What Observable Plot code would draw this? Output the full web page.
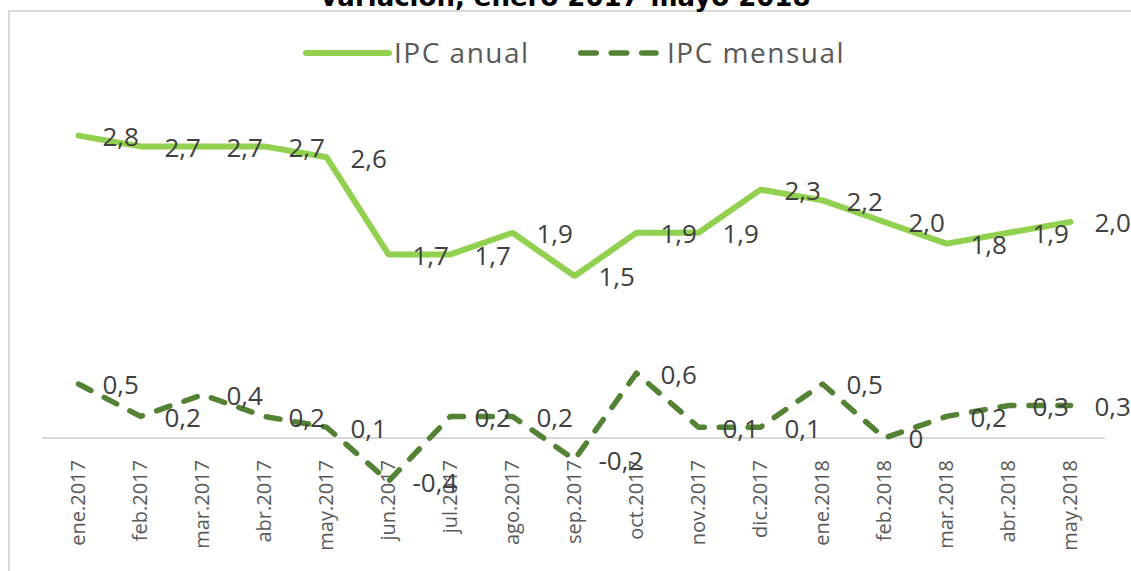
<!DOCTYPE html>
<html>
<head>
<meta charset="utf-8">
<script src="https://cdn.jsdelivr.net/npm/d3@7"></script>
<script src="https://cdn.jsdelivr.net/npm/@observablehq/plot@0.6"></script>
<style>
  html, body { margin: 0; padding: 0; background: #fff; }
  #wrap { position: relative; width: 1131px; height: 571px; overflow: hidden; font-family: "Open Sans", sans-serif; }
  #frame { position: absolute; left: 8px; top: 10px; width: 1300px; height: 800px; border: 2px solid #d9d9d9; box-sizing: border-box; }
  #title { position: absolute; left: 0; top: -16px; width: 1131px; text-align: center; font: bold 26px/27px "DejaVu Sans", sans-serif; color: #000; white-space: nowrap; }
  .lg-text { position: absolute; top: 38px; font-size: 28px; line-height: 28px; letter-spacing: 1.5px; color: #595959; white-space: nowrap; }
  .lg-swatch { position: absolute; top: 48px; }
  #chart { position: absolute; left: 0; top: 0; }
</style>
</head>
<body>
<div id="wrap">
  <div id="frame"></div>
  <div id="title">variación, enero 2017-mayo 2018</div>
  <svg class="lg-swatch" style="left:303px" width="90" height="12"><line x1="3" y1="5" x2="86" y2="5" stroke="#92d050" stroke-width="6" stroke-linecap="round"/></svg>
  <div class="lg-text" style="left:394px">IPC anual</div>
  <svg class="lg-swatch" style="left:575px" width="90" height="12"><line x1="5.75" y1="5" x2="81" y2="5" stroke="#548235" stroke-width="5.5" stroke-linecap="round" stroke-dasharray="15.5,15"/></svg>
  <div class="lg-text" style="left:667px">IPC mensual</div>
  <div id="chart"></div>
</div>
<script>
const months = ["ene.2017","feb.2017","mar.2017","abr.2017","may.2017","jun.2017","jul.2017","ago.2017","sep.2017","oct.2017","nov.2017","dic.2017","ene.2018","feb.2018","mar.2018","abr.2018","may.2018"];
const ipcAnual = [2.8,2.7,2.7,2.7,2.6,1.7,1.7,1.9,1.5,1.9,1.9,2.3,2.2,2.0,1.8,1.9,2.0];
const ipcMensual = [0.5,0.2,0.4,0.2,0.1,-0.4,0.2,0.2,-0.2,0.6,0.1,0.1,0.5,0,0.2,0.3,0.3];

const data = months.map((m, i) => ({ m, anual: ipcAnual[i], mensual: ipcMensual[i] }));
const fmt = v => v === 0 ? "0" : v.toFixed(1).replace(".", ",");

const chart = Plot.plot({
  width: 1131,
  height: 571,
  marginLeft: 42,
  marginRight: 26,
  marginTop: 113.5,
  marginBottom: 133.5,
  style: { fontFamily: "'Open Sans', sans-serif", background: "transparent", overflow: "visible" },
  x: { type: "point", domain: months, padding: 0.5 },
  y: { domain: [0, 3], axis: null },
  marks: [
    Plot.ruleY([0], { stroke: "#d9d9d9", strokeWidth: 2 }),
    Plot.axisX({ tickRotate: -90, tickSize: 0, tickPadding: 22, fontSize: 20, color: "#595959", label: null }),
    Plot.line(data, { x: "m", y: "anual", stroke: "#92d050", strokeWidth: 6, strokeLinecap: "round", strokeLinejoin: "miter" }),
    Plot.line(data, { x: "m", y: "mensual", stroke: "#548235", strokeWidth: 5.5, strokeLinecap: "round", strokeLinejoin: "round", strokeDasharray: "14,15" }),
    Plot.text(data, { x: "m", y: "anual", text: d => fmt(d.anual), dx: 24, dy: 2, textAnchor: "start", fontSize: 26, fill: "#404040" }),
    Plot.text(data, { x: "m", y: "mensual", text: d => fmt(d.mensual), dx: 24, dy: 2, textAnchor: "start", fontSize: 26, fill: "#404040" })
  ]
});
document.getElementById("chart").appendChild(chart);
</script>
</body>
</html>
